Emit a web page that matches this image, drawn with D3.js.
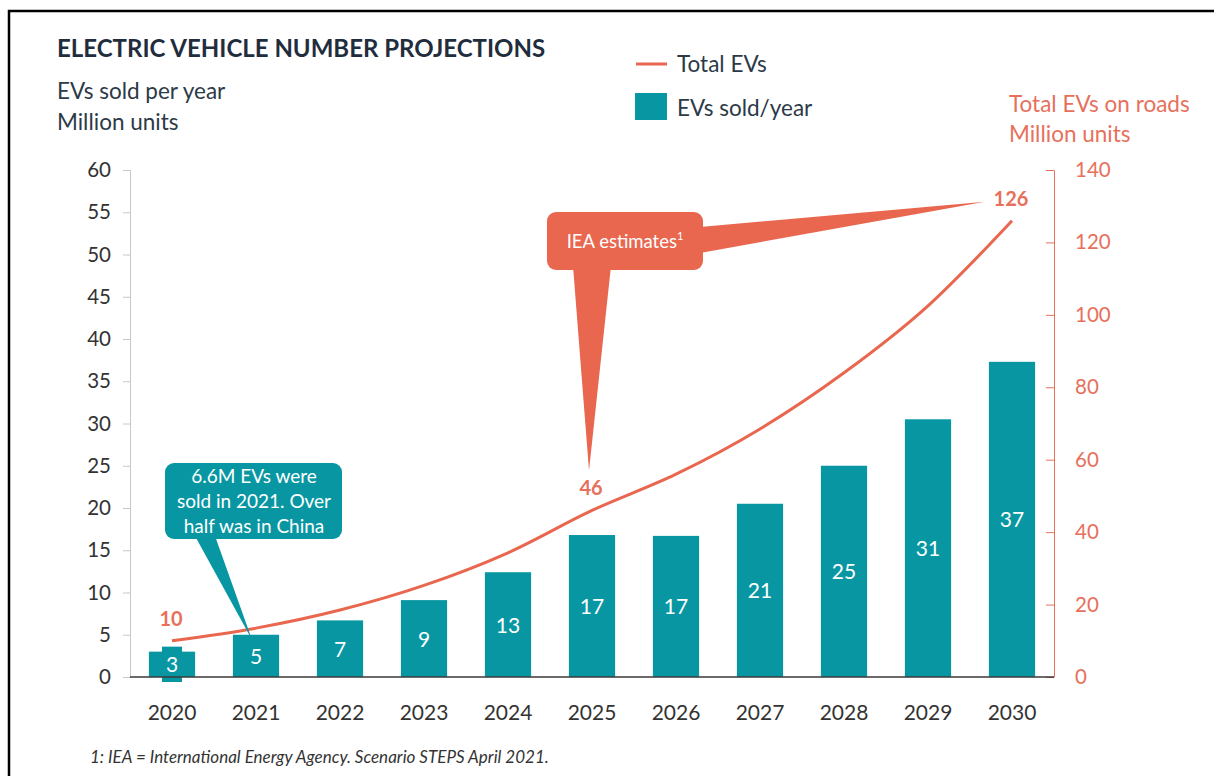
<!DOCTYPE html>
<html>
<head>
<meta charset="utf-8">
<script src="https://cdnjs.cloudflare.com/ajax/libs/d3/7.8.5/d3.min.js"></script>
<style>
  body { margin: 0; background: #fff; }
  svg { display: block; font-family: Lato, "Open Sans", sans-serif; }
</style>
</head>
<body>
<script>
// chart data
const years = ["2020", "2021", "2022", "2023", "2024", "2025", "2026", "2027", "2028", "2029", "2030"];
const soldPerYear = [3.0, 5.0, 6.7, 9.1, 12.4, 16.8, 16.7, 20.5, 25.0, 30.5, 37.3];
const soldLabels = ["3", "5", "7", "9", "13", "17", "17", "21", "25", "31", "37"];
const totalEVs = [10, 13.5, 18.5, 25.3, 34.3, 46, 56, 68.5, 84, 102.5, 126];
const leftTicks = [0, 5, 10, 15, 20, 25, 30, 35, 40, 45, 50, 55, 60];
const rightTicks = [0, 20, 40, 60, 80, 100, 120, 140];
const highlightYears = ["2020", "2025", "2030"];
const highlightLabels = ["10", "46", "126"];

const teal = "#0897a2";
const orange = "#e9664f";
const orangeText = "#e7705c";
const dark = "#2c3947";

const width = 1214, height = 776;
const plotLeft = 130, plotRight = 1054, plotTop = 170, plotBottom = 677;

const svg = d3.select("body").append("svg")
    .attr("width", width)
    .attr("height", height);

// frame (only top/left visible in the picture)
svg.append("rect")
    .attr("x", 9).attr("y", 11)
    .attr("width", width + 20).attr("height", height + 20)
    .attr("fill", "none")
    .attr("stroke", "#000")
    .attr("stroke-width", 2.5);

const x = d3.scaleBand()
    .domain(years)
    .range([plotLeft, plotRight])
    .paddingInner(0.45)
    .paddingOuter(0.225);

const yLeft = d3.scaleLinear().domain([0, 60]).range([plotBottom, plotTop]);
const yRight = d3.scaleLinear().domain([0, 140]).range([plotBottom, plotTop]);
const xc = d => x(d) + x.bandwidth() / 2;

// titles
svg.append("text")
    .attr("x", 57).attr("y", 57)
    .attr("font-size", 24).attr("font-weight", 700)
    .attr("fill", "#1f2d3d")
    .text("ELECTRIC VEHICLE NUMBER PROJECTIONS");

svg.append("text").attr("x", 57).attr("y", 99)
    .attr("font-size", 22.5).attr("fill", dark).text("EVs sold per year");
svg.append("text").attr("x", 57).attr("y", 130)
    .attr("font-size", 22.5).attr("fill", dark).text("Million units");

svg.append("text").attr("x", 1009).attr("y", 112)
    .attr("font-size", 22.5).attr("fill", orangeText).text("Total EVs on roads");
svg.append("text").attr("x", 1009).attr("y", 142)
    .attr("font-size", 22.5).attr("fill", orangeText).text("Million units");

// legend
svg.append("line")
    .attr("x1", 636).attr("x2", 667).attr("y1", 64).attr("y2", 64)
    .attr("stroke", orange).attr("stroke-width", 3);
svg.append("text").attr("x", 677).attr("y", 72)
    .attr("font-size", 22.5).attr("fill", dark).text("Total EVs");
svg.append("rect")
    .attr("x", 635).attr("y", 93).attr("width", 32).attr("height", 27)
    .attr("fill", teal);
svg.append("text").attr("x", 677).attr("y", 116)
    .attr("font-size", 22.5).attr("fill", dark).text("EVs sold/year");

// left axis
const leftAxis = svg.append("g")
    .attr("transform", `translate(${plotLeft},0)`)
    .call(d3.axisLeft(yLeft).tickValues(leftTicks).tickSize(7).tickPadding(12));
leftAxis.select(".domain").attr("stroke", "#c8c8c8");
leftAxis.selectAll(".tick line").attr("stroke", "#c8c8c8");
leftAxis.selectAll(".tick text")
    .attr("font-size", 20.5).attr("fill", "#333")
    .attr("font-family", "Lato, 'Open Sans', sans-serif");

// right axis (ticks point inward)
const rightAxis = svg.append("g")
    .attr("transform", `translate(${plotRight},0)`)
    .call(d3.axisRight(yRight).tickValues(rightTicks).tickSize(0).tickPadding(21));
rightAxis.select(".domain").attr("stroke", orangeText);
rightAxis.selectAll(".tick").append("line")
    .attr("x1", -8).attr("x2", 0)
    .attr("stroke", orangeText);
rightAxis.selectAll(".tick text")
    .attr("font-size", 20.5).attr("fill", orangeText)
    .attr("font-family", "Lato, 'Open Sans', sans-serif");

// bars
svg.append("g")
    .selectAll("rect")
    .data(years)
    .enter().append("rect")
    .attr("x", d => x(d))
    .attr("y", (d, i) => yLeft(soldPerYear[i]))
    .attr("width", x.bandwidth())
    .attr("height", (d, i) => plotBottom - yLeft(soldPerYear[i]))
    .attr("fill", teal);

// small label box on the first bar, as in the source
svg.append("rect")
    .attr("x", xc(years[0]) - 10)
    .attr("y", yLeft(soldPerYear[0]) - 5)
    .attr("width", 20)
    .attr("height", plotBottom - yLeft(soldPerYear[0]) + 10)
    .attr("fill", teal);

// x baseline
svg.append("line")
    .attr("x1", plotLeft).attr("x2", plotRight)
    .attr("y1", plotBottom).attr("y2", plotBottom)
    .attr("stroke", "#3a3a3a").attr("stroke-width", 1.3);

// bar labels
svg.append("g")
    .selectAll("text")
    .data(years)
    .enter().append("text")
    .attr("x", d => xc(d))
    .attr("y", (d, i) => (yLeft(soldPerYear[i]) + plotBottom) / 2 + 8)
    .attr("text-anchor", "middle")
    .attr("font-size", 21)
    .attr("fill", "#fff")
    .text((d, i) => soldLabels[i]);

// year labels
svg.append("g")
    .selectAll("text")
    .data(years)
    .enter().append("text")
    .attr("x", d => xc(d))
    .attr("y", 720)
    .attr("text-anchor", "middle")
    .attr("font-size", 21)
    .attr("fill", "#333")
    .text(d => d);

// total EVs line
const line = d3.line()
    .x((d, i) => xc(years[i]))
    .y(d => yRight(d))
    .curve(d3.curveMonotoneX);

svg.append("path")
    .datum(totalEVs)
    .attr("d", line)
    .attr("fill", "none")
    .attr("stroke", orange)
    .attr("stroke-width", 3);

// highlighted values on the line
highlightYears.forEach((yr, k) => {
    const i = years.indexOf(yr);
    svg.append("text")
        .attr("x", xc(yr) - 1)
        .attr("y", yRight(totalEVs[i]) - 15)
        .attr("text-anchor", "middle")
        .attr("font-size", 20).attr("font-weight", 700)
        .attr("fill", orangeText)
        .text(highlightLabels[k]);
});

// teal callout pointing at the 2021 bar
const tealTip = [xc("2021") - 4, yLeft(soldPerYear[1]) + 5];
svg.append("path")
    .attr("d", `M195,536 L215,536 L${tealTip[0]},${tealTip[1]} Z`)
    .attr("fill", teal);
svg.append("rect")
    .attr("x", 165).attr("y", 463).attr("width", 177).attr("height", 76)
    .attr("rx", 9).attr("fill", teal);
const tealLines = ["6.6M EVs were", "sold in 2021. Over", "half was in China"];
svg.append("g")
    .selectAll("text")
    .data(tealLines)
    .enter().append("text")
    .attr("x", 254)
    .attr("y", (d, i) => 483 + i * 25)
    .attr("text-anchor", "middle")
    .attr("font-size", 19)
    .attr("fill", "#fff")
    .text(d => d);

// orange callout for IEA estimates
const downTip = [xc("2025") - 3, yRight(46) - 40];
const rightTip = [xc("2030") - 27, yRight(126) - 19];
svg.append("path")
    .attr("d", `M573,266 L611,266 L${downTip[0]},${downTip[1]} Z`)
    .attr("fill", orange);
svg.append("path")
    .attr("d", `M700,227 L700,253 L${rightTip[0]},${rightTip[1]} Z`)
    .attr("fill", orange);
svg.append("rect")
    .attr("x", 547).attr("y", 212).attr("width", 156).attr("height", 58)
    .attr("rx", 9).attr("fill", orange);
const iea = svg.append("text")
    .attr("x", 625).attr("y", 248)
    .attr("text-anchor", "middle")
    .attr("font-size", 18.5)
    .attr("fill", "#fff");
iea.append("tspan").text("IEA estimates");
iea.append("tspan").attr("font-size", 11).attr("dy", -8).text("1");

// footnote
svg.append("text")
    .attr("x", 90).attr("y", 763)
    .attr("font-size", 17).attr("font-style", "italic")
    .attr("fill", "#333")
    .text("1: IEA = International Energy Agency. Scenario STEPS April 2021.");
</script>
</body>
</html>
